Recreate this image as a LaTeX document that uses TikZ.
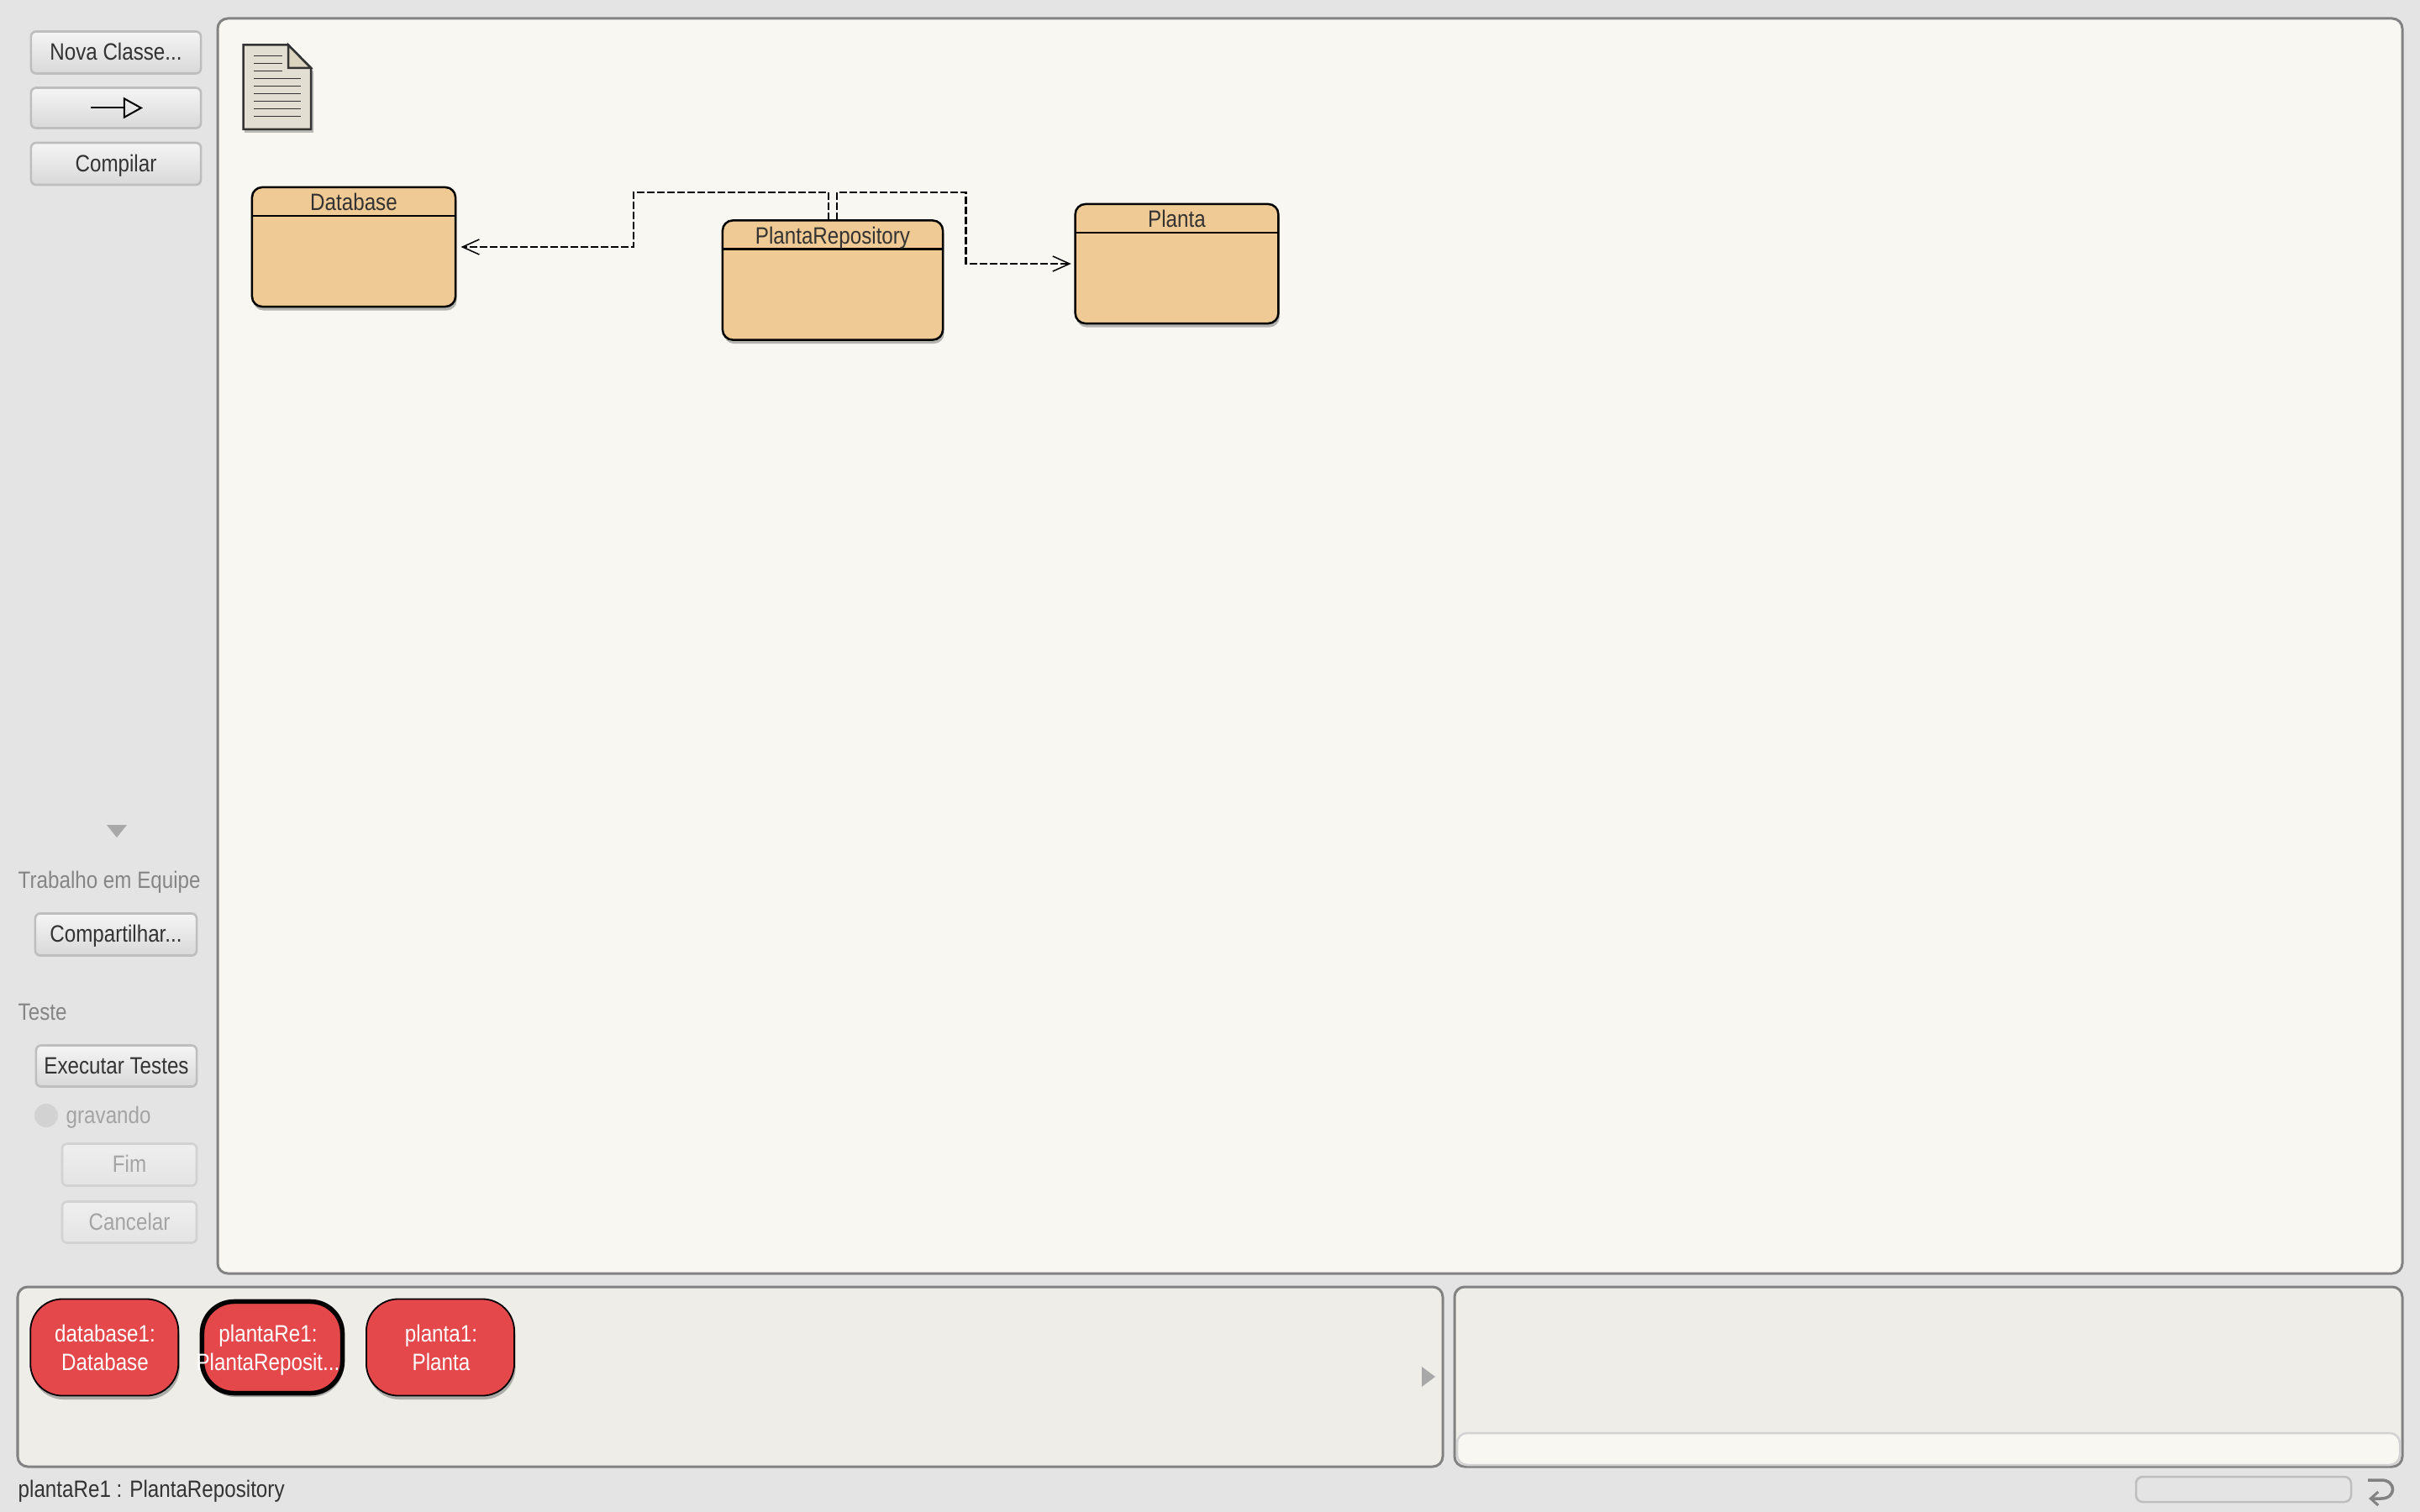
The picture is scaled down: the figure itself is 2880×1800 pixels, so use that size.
\documentclass[tikz,border=0pt]{standalone}
\usepackage{fontspec}
\setmainfont[FakeStretch=0.86]{Liberation Sans}
\usepackage{xcolor}
\usetikzlibrary{arrows.meta, shadows}
\definecolor{panelbg}{HTML}{E4E4E4}
\definecolor{canvasbg}{HTML}{F8F7F2}
\definecolor{benchbg}{HTML}{EEEDE8}
\definecolor{framegrey}{HTML}{828282}
\definecolor{classfill}{HTML}{EFCA94}
\definecolor{objfill}{HTML}{E4484B}
\definecolor{ink}{HTML}{333333}
\definecolor{dimtext}{HTML}{858585}
\definecolor{offtext}{HTML}{A4A4A4}
\definecolor{btnline}{HTML}{BEBEBE}
\definecolor{offline}{HTML}{D2D2D2}
\definecolor{docfill}{HTML}{E2DED2}
\definecolor{foldfill}{HTML}{DBD5C0}
\definecolor{markgrey}{HTML}{A8A8A8}
\tikzset{
  panel/.style={draw=framegrey, line width=0.03cm, rounded corners=0.12cm},
  softshadow/.style={drop shadow={shadow xshift=0.015cm, shadow yshift=-0.045cm, opacity=0.28, fill=black}},
  uitext/.style={text height=0.185cm, text depth=0cm, font=\fontsize{8}{10}\selectfont},
  btn/.style={uitext, rounded corners=0.06cm, draw=btnline, line width=0.026cm, inner sep=0pt, outer sep=0pt,
    top color=white!60!panelbg!95!white, bottom color=black!5!panelbg, text=ink},
  offbtn/.style={btn, draw=offline, top color=panelbg!60!white, bottom color=panelbg, text=offtext},
  classbox/.style={draw=black, fill=classfill, line width=0.025cm, rounded corners=0.12cm,
    inner sep=0pt, outer sep=0pt, softshadow},
  classname/.style={uitext, inner sep=0pt, text=ink},
  objbox/.style={draw=black, fill=objfill, line width=0.018cm, rounded corners=0.38cm,
    minimum height=1.15cm, inner sep=0pt, outer sep=0pt, softshadow},
  objname/.style={inner sep=0pt, align=center, text=white, text depth=0cm, font=\fontsize{8}{9.7}\selectfont},
  sidetext/.style={uitext, anchor=west, inner sep=0pt},
  dep/.style={draw=black, line width=0.021cm, dash pattern=on 0.09cm off 0.03cm,
    -{Straight Barb[length=0.2cm, width=0.18cm, line width=0.015cm]}}
}
\begin{document}
\begin{tikzpicture}[x=0.01cm, y=-0.01cm]
  \fill[panelbg] (0,0) rectangle (2880,1800);
  \useasboundingbox (0,0) rectangle (2880,1800);
  % main panels
  \filldraw[panel, fill=canvasbg] (259,22) rectangle (2859,1516);
  \filldraw[panel, fill=benchbg] (21,1532) rectangle (1717,1746);
  \filldraw[panel, fill=benchbg] (1731,1532) rectangle (2859,1746);
  \filldraw[draw=offline, fill=canvasbg, line width=0.025cm, rounded corners=0.12cm]
    (1734,1706) rectangle (2856,1744);
  % buttons
  \foreach \name/\xc/\yc/\w/\h/\kind/\txt in {%
    newclass/138/62.5/2.02/0.5/btn/{Nova Classe...},
    newdep/138/128.5/2.02/0.48/btn/{},
    compile/138/195/2.02/0.5/btn/Compilar,
    share/138/1112.5/1.92/0.5/btn/{Compartilhar...},
    runtests/138.5/1269/1.91/0.49/btn/Executar Testes,
    finish/154/1386.5/1.6/0.5/offbtn/Fim,
    cancel/154/1455/1.6/0.49/offbtn/Cancelar
    } {
    \node[\kind, minimum width=\w cm, minimum height=\h cm] (\name) at (\xc,\yc) {\txt};
  }
  \coordinate (depstart) at (108,128.5);
  \coordinate (depend) at (170,128.5);
  \draw[line width=0.02cm, -{Triangle[open, length=0.23cm, width=0.25cm, line width=0.02cm]}] (depstart) -- (depend);
  % side labels
  \fill[markgrey] (127,982) -- (151,982) -- (139,997) -- cycle;
  \node[sidetext, text=dimtext] (teamlabel) at (21,1048) {Trabalho em Equipe};
  \node[sidetext, text=dimtext] (testlabel) at (21,1205) {Teste};
  \fill[offline] (55,1328) circle (0.14cm);
  \node[sidetext, text=offtext] (reclabel) at (78,1328) {gravando};
  % readme icon
  \fill[black, opacity=0.25] (291,58) -- (345,58) -- (373,85) -- (373,158) -- (291,158) -- cycle;
  \filldraw[draw=ink, fill=docfill, line width=0.025cm] (289.5,53.5) -- (343,53.5) -- (370,81) -- (370,154) -- (289.5,154) -- cycle;
  \filldraw[draw=ink, fill=foldfill, line width=0.025cm] (343,53.5) -- (370,81) -- (343,81) -- cycle;
  \foreach \yp in {66,75,84} {
    \draw[ink, line width=0.008cm] (302,\yp) -- (336,\yp);
  }
  \foreach \yp in {93,102,...,138} {
    \draw[ink, line width=0.008cm] (302,\yp) -- (358,\yp);
  }
  % classes
  \foreach \name/\xc/\yc/\w/\txt in {%
    database/421/294/2.42/Database,
    repository/991/333.5/2.62/PlantaRepository,
    planta/1400.5/314/2.415/Planta
    } {
    \node[classbox, minimum width=\w cm, minimum height=1.42cm] (\name) at (\xc,\yc) {};
    \draw[black, line width=0.025cm] ([yshift=-0.34cm]\name.north west) -- ([yshift=-0.34cm]\name.north east);
    \node[classname] (\name title) at ([yshift=-0.185cm]\name.north) {\txt};
  }
  % dependencies
  \coordinate (repoleft) at ([xshift=-0.05cm]repository.north);
  \coordinate (reporight) at ([xshift=0.05cm]repository.north);
  \coordinate (bendleft) at (754,229);
  \coordinate (bendright) at (1149.5,229);
  \draw[dep, shorten >=0.065cm] (repoleft) |- (bendleft) |- (database.east);
  \draw[dep, shorten >=0.05cm] (reporight) |- (bendright) |- (planta.west);
  % object bench
  \node[objbox, minimum width=1.76cm] (dbobj) at (124.25,1604) {};
  \node[objbox, minimum width=1.67cm, minimum height=1.09cm, line width=0.055cm] (repoobj) at (324,1604) {};
  \node[objbox, minimum width=1.76cm] (plantaobj) at (524,1604) {};
  \foreach \name/\xc/\first/\second in {%
    dbobj/125/database1:/Database,
    repoobj/319/plantaRe1:/{PlantaReposit...},
    plantaobj/525/planta1:/Planta
    } {
    \node[objname] (\name text) at (\xc,1604) {\first\\\second};
  }
  \fill[markgrey] (1692,1627) -- (1708,1639) -- (1692,1651) -- cycle;
  % status bar
  \node[sidetext, text=ink] (status) at (21,1773) {plantaRe1 : PlantaRepository};
  \draw[btnline, line width=0.025cm, rounded corners=0.08cm] (2542,1758) rectangle (2798,1788);
  \draw[framegrey, line width=0.035cm, -{Straight Barb[length=0.09cm, width=0.16cm, line width=0.03cm]}]
    (2818,1762) -- (2834,1762) .. controls (2852,1762) and (2852,1784) .. (2834,1784) -- (2819,1784);
\end{tikzpicture}
\end{document}
